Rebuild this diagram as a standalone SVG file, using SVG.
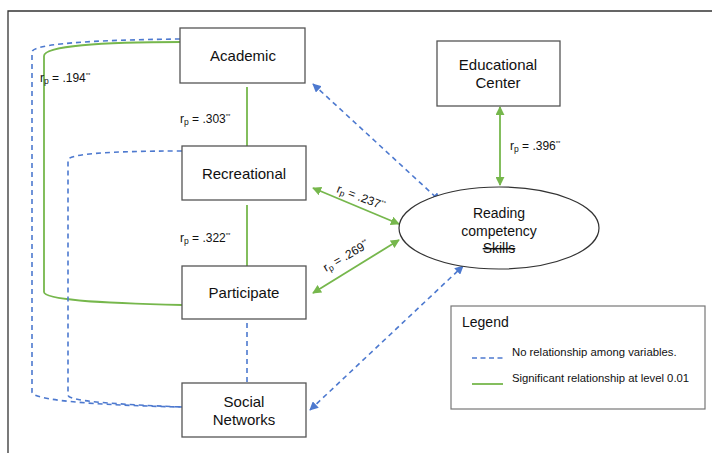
<svg xmlns="http://www.w3.org/2000/svg" width="717" height="453" viewBox="0 0 717 453">
<style>
text{font-family:"Liberation Sans",Arial,sans-serif;fill:#111}
.box{fill:#fff;stroke:#555;stroke-width:1.3}
.nt{font-size:15px;text-anchor:middle}
.lb{font-size:12px}
.sub{font-size:8.5px}
.sup{font-size:6px}
.g{fill:none;stroke:#76b74c;stroke-width:1.8}
.b{fill:none;stroke:#4d79cf;stroke-width:1.6;stroke-dasharray:5 4}
</style>
<defs>
<marker id="ag" viewBox="0 0 10 10" refX="9" refY="5" markerWidth="5" markerHeight="5" orient="auto-start-reverse"><path d="M0,0 L10,5 L0,10 z" fill="#76b74c"/></marker>
<marker id="ab" viewBox="0 0 10 10" refX="9" refY="5" markerWidth="5.5" markerHeight="5.5" orient="auto-start-reverse"><path d="M0,0 L10,5 L0,10 z" fill="#4d79cf"/></marker>
</defs>
<rect width="717" height="453" fill="#fff"/>
<path d="M8,453 L8,11 L712,11" fill="none" stroke="#333" stroke-width="1.3"/>

<g id="connectors">
<path class="g" d="M182,42 C100,42 44,46 44,56 L44,292 C44,300 100,303 182,305"/>
<path class="b" d="M180,39 C90,40 32,44 32,52 L32,392 C32,400 90,405 182,407"/>
<path class="b" d="M182,151 C110,151 68,154 68,160 L68,395 C68,401 110,404 182,407"/>
<line class="g" x1="247" y1="87" x2="247" y2="146"/>
<line class="g" x1="247" y1="205" x2="247" y2="266"/>
<line class="b" x1="247" y1="323" x2="247" y2="383"/>
<line class="b" x1="313" y1="84" x2="440" y2="201" marker-start="url(#ab)" marker-end="url(#ab)"/>
<line class="g" x1="313" y1="188" x2="399" y2="224" marker-start="url(#ag)" marker-end="url(#ag)"/>
<line class="g" x1="313" y1="293" x2="399" y2="240" marker-start="url(#ag)" marker-end="url(#ag)"/>
<line class="b" x1="310" y1="410" x2="463" y2="266" marker-start="url(#ab)" marker-end="url(#ab)"/>
<line class="g" x1="500" y1="107" x2="500" y2="185" marker-start="url(#ag)" marker-end="url(#ag)"/>
</g>

<g id="labels">
<text class="lb" x="40" y="82">r<tspan class="sub" dy="2">p</tspan><tspan dy="-2"> = .194</tspan><tspan class="sup" dy="-5">**</tspan></text>
<text class="lb" x="180" y="123">r<tspan class="sub" dy="2">p</tspan><tspan dy="-2"> = .303</tspan><tspan class="sup" dy="-5">**</tspan></text>
<text class="lb" x="180" y="242">r<tspan class="sub" dy="2">p</tspan><tspan dy="-2"> = .322</tspan><tspan class="sup" dy="-5">**</tspan></text>
<text class="lb" x="510" y="150">r<tspan class="sub" dy="2">p</tspan><tspan dy="-2"> = .396</tspan><tspan class="sup" dy="-5">**</tspan></text>
<text class="lb" transform="translate(336,192) rotate(21)">r<tspan class="sub" dy="2">p</tspan><tspan dy="-2"> = .237</tspan><tspan class="sup" dy="-5">**</tspan></text>
<text class="lb" transform="translate(326,272) rotate(-30)">r<tspan class="sub" dy="2">p</tspan><tspan dy="-2"> = .269</tspan><tspan class="sup" dy="-5">**</tspan></text>
</g>

<g id="academic"><rect class="box" x="180" y="28" width="125" height="55"/><text class="nt" x="243" y="61">Academic</text></g>
<g id="recreational"><rect class="box" x="182" y="146" width="124" height="54"/><text class="nt" x="244" y="179">Recreational</text></g>
<g id="participate"><rect class="box" x="182" y="266" width="124" height="53"/><text class="nt" x="244" y="298">Participate</text></g>
<g id="social-networks"><rect class="box" x="182" y="383" width="124" height="54"/><text class="nt" x="244" y="407">Social</text><text class="nt" x="244" y="425">Networks</text></g>
<g id="educational-center"><rect class="box" x="437" y="41" width="123" height="65"/><text class="nt" x="498" y="70">Educational</text><text class="nt" x="498" y="88">Center</text></g>
<g id="reading"><ellipse cx="499" cy="228" rx="100" ry="41" fill="#fff" stroke="#333" stroke-width="1.2"/>
<text class="nt" style="font-size:14px" x="499" y="218">Reading</text>
<text class="nt" style="font-size:14px" x="499" y="236">competency</text>
<text class="nt" style="font-size:14px;text-decoration:line-through" x="499" y="253">Skills</text></g>

<g id="legend">
<rect x="451" y="306" width="254" height="103" fill="#fff" stroke="#777" stroke-width="1.2"/>
<text x="462" y="327" style="font-size:14px">Legend</text>
<line class="b" x1="472" y1="358" x2="504" y2="358" style="stroke-dasharray:5 3.5"/>
<text x="512" y="356" style="font-size:11.3px">No relationship among variables.</text>
<line class="g" x1="472" y1="384" x2="503" y2="384"/>
<text x="512" y="382" style="font-size:11.3px">Significant relationship at level 0.01</text>
</g>
</svg>
